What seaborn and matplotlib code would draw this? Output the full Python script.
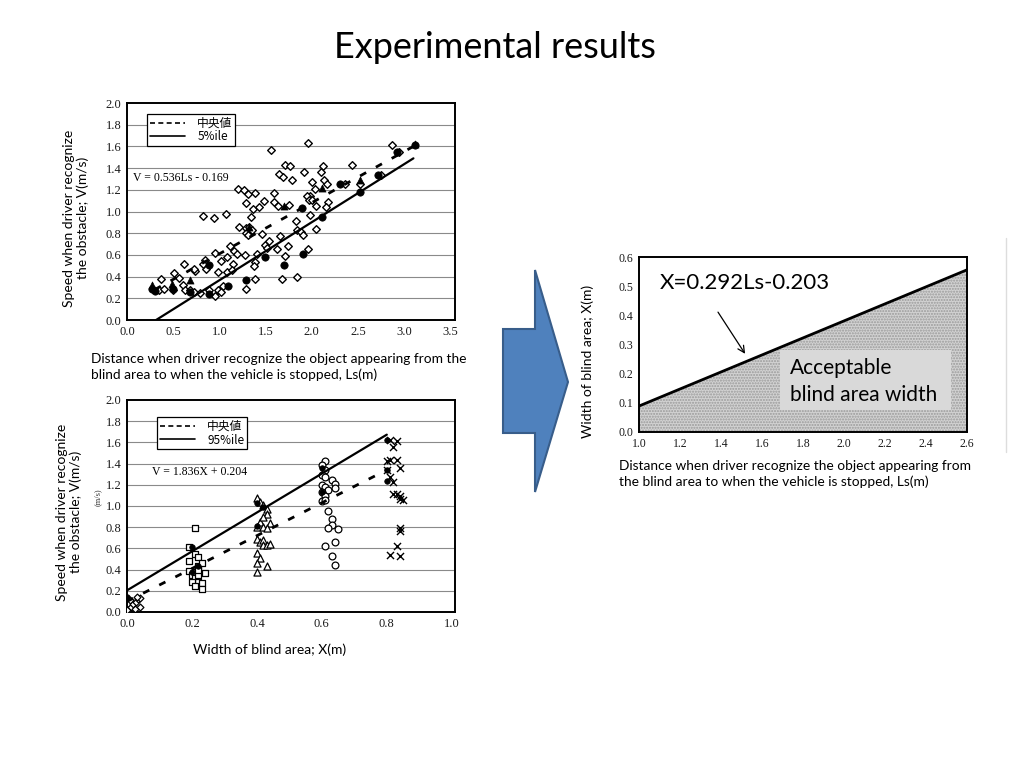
import matplotlib
matplotlib.use("Agg")
import matplotlib.pyplot as plt
from matplotlib.patches import Polygon, Rectangle
from matplotlib.lines import Line2D
from matplotlib.font_manager import FontProperties
import seaborn as sns
import numpy as np

# ---------------- data: top chart (V vs Ls) ----------------
top_diamond_x = [2.87, 1.96, 1.56, 2.43, 2.12, 1.71, 1.76, 1.65, 1.69, 1.79, 1.92, 2.10, 2.13, 2.16,
                 2.00, 2.03, 2.36, 1.20, 1.27, 1.39, 1.31, 1.59, 1.48, 1.59, 1.63, 1.75, 1.29, 1.36,
                 1.43, 1.98, 1.95, 1.97, 2.00, 2.05, 2.18, 2.15, 1.98, 0.82, 0.94, 1.07, 1.21, 1.34,
                 1.29, 1.32, 1.35, 1.29, 1.31, 1.46, 1.66, 1.84, 1.88, 1.91, 1.83, 2.05, 1.49, 1.54,
                 1.62, 1.74, 1.71, 1.41, 1.28, 1.52, 1.12, 1.16, 1.19, 1.08, 1.15, 1.02, 0.95, 0.99,
                 1.08, 0.85, 0.84, 0.82, 0.74, 0.72, 0.62, 0.56, 0.51, 0.37, 0.35, 0.40, 0.50, 0.61,
                 0.63, 0.68, 0.73, 0.79, 0.89, 0.95, 0.99, 1.04, 1.14, 1.38, 1.37, 1.39, 1.29, 1.68,
                 1.84, 1.96, 2.52, 2.75, 2.94, 1.02]
top_diamond_y = [1.61, 1.63, 1.57, 1.43, 1.42, 1.43, 1.42, 1.35, 1.32, 1.29, 1.36, 1.36, 1.29, 1.25,
                 1.27, 1.21, 1.25, 1.21, 1.20, 1.17, 1.16, 1.17, 1.10, 1.09, 1.05, 1.06, 1.08, 1.02,
                 1.04, 1.14, 1.14, 1.11, 1.11, 1.05, 1.09, 1.04, 0.97, 0.96, 0.94, 0.98, 0.86, 0.95,
                 0.85, 0.86, 0.83, 0.80, 0.78, 0.79, 0.77, 0.83, 0.81, 0.78, 0.91, 0.84, 0.69, 0.73,
                 0.65, 0.68, 0.59, 0.61, 0.60, 0.66, 0.68, 0.64, 0.61, 0.58, 0.52, 0.54, 0.62, 0.44,
                 0.44, 0.47, 0.55, 0.52, 0.45, 0.47, 0.52, 0.39, 0.43, 0.38, 0.28, 0.29, 0.28, 0.32,
                 0.28, 0.28, 0.26, 0.25, 0.28, 0.22, 0.28, 0.31, 0.46, 0.53, 0.50, 0.38, 0.29, 0.38,
                 0.40, 0.65, 1.25, 1.34, 1.55, 0.26]
top_circle_x = [0.27, 0.30, 0.50, 0.68, 0.89, 0.89, 1.09, 1.29, 1.49, 1.70, 1.90, 1.89, 2.11, 2.31,
                2.52, 2.72, 2.92, 3.12]
top_circle_y = [0.29, 0.27, 0.29, 0.26, 0.24, 0.51, 0.31, 0.37, 0.58, 0.51, 0.61, 1.03, 0.95, 1.25,
                1.18, 1.34, 1.55, 1.61]
top_tri_x = [0.27, 0.49, 0.68, 1.32, 1.70, 2.11, 2.52, 3.12]
top_tri_y = [0.32, 0.33, 0.37, 0.86, 1.05, 1.22, 1.29, 1.62]
top_median_x = [0.30, 3.10]
top_median_y = [0.28, 1.60]
top_p5_x = [0.315, 3.10]
top_p5_y = [0.0, 1.49]
top_legend = ["中央値", "5%ile"]
top_equation = "V = 0.536Ls - 0.169"

# ---------------- data: bottom chart (V vs X) ----------------
bot_square_x = [0.21, 0.19, 0.19, 0.20, 0.21, 0.21, 0.22, 0.22, 0.21, 0.23, 0.24, 0.22, 0.20, 0.21,
                0.23, 0.23, 0.19, 0.22, 0.22]
bot_square_y = [0.79, 0.48, 0.39, 0.35, 0.33, 0.55, 0.52, 0.43, 0.38, 0.46, 0.37, 0.28, 0.28, 0.25,
                0.27, 0.22, 0.61, 0.35, 0.40]
bot_tri_x = [0.40, 0.41, 0.42, 0.43, 0.43, 0.44, 0.41, 0.40, 0.42, 0.42, 0.43, 0.40, 0.41, 0.42,
             0.42, 0.43, 0.44, 0.40, 0.41, 0.40, 0.40, 0.43]
bot_tri_y = [1.08, 1.04, 1.01, 0.97, 0.92, 0.84, 0.85, 0.80, 0.90, 0.80, 0.79, 0.69, 0.66, 0.68,
             0.63, 0.63, 0.64, 0.56, 0.51, 0.46, 0.38, 0.43]
bot_circle_x = [0.61, 0.60, 0.61, 0.60, 0.61, 0.63, 0.64, 0.60, 0.61, 0.64, 0.62, 0.60, 0.61, 0.60,
                0.61, 0.62, 0.63, 0.63, 0.62, 0.65, 0.64, 0.61, 0.63, 0.64]
bot_circle_y = [1.42, 1.39, 1.34, 1.29, 1.27, 1.25, 1.21, 1.20, 1.18, 1.17, 1.15, 1.13, 1.09, 1.05,
                1.06, 0.95, 0.88, 0.82, 0.79, 0.78, 0.66, 0.62, 0.53, 0.44]
bot_cross_x = [0.81, 0.83, 0.82, 0.80, 0.81, 0.83, 0.84, 0.80, 0.81, 0.82, 0.82, 0.83, 0.84, 0.85,
               0.84, 0.84, 0.84, 0.83, 0.81, 0.84]
bot_cross_y = [1.62, 1.61, 1.56, 1.42, 1.43, 1.43, 1.36, 1.34, 1.27, 1.23, 1.11, 1.11, 1.09, 1.06,
               1.07, 0.79, 0.76, 0.62, 0.54, 0.53]
bot_diamond_x = [0.006, 0.013, 0.02, 0.027, 0.034, 0.04, 0.03, 0.04, 0.024, 0.0, 0.01]
bot_diamond_y = [0.03, 0.05, 0.08, 0.09, 0.12, 0.13, 0.14, 0.05, 0.03, 0.02, 0.11]
bot_dot_x = [0.0, 0.20, 0.20, 0.22, 0.40, 0.40, 0.42, 0.60, 0.60, 0.80, 0.80, 0.80]
bot_dot_y = [0.14, 0.61, 0.38, 0.43, 1.03, 0.81, 0.99, 1.36, 1.13, 1.62, 1.34, 1.24]
bot_median_x = [0.0, 0.80]
bot_median_y = [0.10, 1.34]
bot_p95_x = [0.0, 0.80]
bot_p95_y = [0.204, 1.673]
bot_legend = ["中央値", "95%ile"]
bot_equation = "V = 1.836X + 0.204"

# ---------------- data: right chart (X vs Ls) ----------------
right_line_x = [1.0, 2.6]
right_line_y = [0.089, 0.556]
right_equation = "X=0.292Ls-0.203"

top_xticks = [0.0, 0.5, 1.0, 1.5, 2.0, 2.5, 3.0, 3.5]
v_ticks = [0.0, 0.2, 0.4, 0.6, 0.8, 1.0, 1.2, 1.4, 1.6, 1.8, 2.0]
bot_xticks = [0.0, 0.2, 0.4, 0.6, 0.8, 1.0]
right_xticks = [1.0, 1.2, 1.4, 1.6, 1.8, 2.0, 2.2, 2.4, 2.6]
right_yticks = [0.0, 0.1, 0.2, 0.3, 0.4, 0.5, 0.6]

# ---------------- style ----------------
sns.set_theme(style="white")
plt.rcParams["font.family"] = ["Lato", "DejaVu Sans"]
plt.rcParams["text.color"] = "black"
SLIDE = ["Lato", "DejaVu Sans"]
SCAN = ["Liberation Serif", "DejaVu Serif"]
CJK = FontProperties(family=["Noto Sans CJK JP", "Liberation Serif"], size=8.5)

W, H = 1024, 768
fig = plt.figure(figsize=(W / 100, H / 100), dpi=100)
fig.patch.set_facecolor("white")


def rect(l, t, r, b):
    return [l / W, 1 - b / H, (r - l) / W, (b - t) / H]


def style_scan_axes(ax, xticks, yticks, xlim, ylim, grid=True, size=9):
    ax.set_xlim(*xlim)
    ax.set_ylim(*ylim)
    ax.set_xticks(xticks)
    ax.set_yticks(yticks)
    ax.set_xticklabels([f"{t:.1f}" for t in xticks], family=SCAN, fontsize=size, color="#1a1a1a")
    ax.set_yticklabels([f"{t:.1f}" for t in yticks], family=SCAN, fontsize=size, color="#1a1a1a")
    ax.tick_params(axis="both", direction="in", length=3, width=0.8, color="#333333", pad=4)
    for s in ax.spines.values():
        s.set_color("black")
        s.set_linewidth(1.4)
    if grid:
        for t in yticks[1:-1]:
            ax.axhline(t, color="#8a8a8a", lw=0.8, zorder=0)
    ax.set_xlabel("")
    ax.set_ylabel("")


def make_legend(ax, labels, anchor):
    handles = [Line2D([0], [0], color="black", lw=1.2, ls=(0, (3, 2))),
               Line2D([0], [0], color="black", lw=1.2)]
    leg = ax.legend(handles, labels, loc="upper left", bbox_to_anchor=anchor,
                    borderaxespad=0, prop=CJK, frameon=True, fancybox=False, framealpha=1,
                    edgecolor="black", handlelength=3.0, borderpad=0.25, labelspacing=0.05,
                    handletextpad=1.0)
    leg.get_frame().set_linewidth(0.9)
    for t in leg.get_texts():
        t.set_color("black")
    return leg


# ---------------- top-left chart ----------------
ax1 = fig.add_axes(rect(127, 103, 455, 320))
style_scan_axes(ax1, top_xticks, v_ticks, (0, 3.55), (0, 2.0))
sns.scatterplot(x=top_diamond_x, y=top_diamond_y, marker="D", s=15, color="white",
                edgecolor="black", linewidth=1.0, ax=ax1, zorder=3)
sns.scatterplot(x=top_circle_x, y=top_circle_y, marker="o", s=28, color="black",
                edgecolor="black", linewidth=0.5, ax=ax1, zorder=4)
sns.scatterplot(x=top_tri_x, y=top_tri_y, marker="^", s=26, color="black",
                edgecolor="black", linewidth=0.5, ax=ax1, zorder=4)
sns.lineplot(x=top_median_x, y=top_median_y, color="black", lw=2.0, ax=ax1, zorder=5)
ax1.lines[-1].set_dashes((2.5, 4))
sns.lineplot(x=top_p5_x, y=top_p5_y, color="black", lw=1.6, ax=ax1, zorder=5)
ax1.text(0.07, 1.31, top_equation, family=SCAN, fontsize=8.5, va="center", ha="left")
make_legend(ax1, top_legend, (0.061, 0.95))

# ---------------- bottom-left chart ----------------
ax2 = fig.add_axes(rect(127, 400, 455, 612))
style_scan_axes(ax2, bot_xticks, v_ticks, (0, 1.01), (0, 2.0))
sns.scatterplot(x=bot_square_x, y=bot_square_y, marker="s", s=20, color="white",
                edgecolor="black", linewidth=0.9, ax=ax2, zorder=3)
sns.scatterplot(x=bot_tri_x, y=bot_tri_y, marker="^", s=26, color="white",
                edgecolor="black", linewidth=0.9, ax=ax2, zorder=3)
sns.scatterplot(x=bot_circle_x, y=bot_circle_y, marker="o", s=24, color="white",
                edgecolor="black", linewidth=0.9, ax=ax2, zorder=3)
sns.scatterplot(x=bot_cross_x, y=bot_cross_y, marker="x", s=26, color="black",
                linewidth=1.0, ax=ax2, zorder=3)
sns.scatterplot(x=bot_diamond_x, y=bot_diamond_y, marker="D", s=12, color="white",
                edgecolor="black", linewidth=0.9, ax=ax2, zorder=3)
sns.scatterplot(x=bot_dot_x, y=bot_dot_y, marker="o", s=16, color="black",
                edgecolor="black", linewidth=0.5, ax=ax2, zorder=4)
sns.lineplot(x=bot_median_x, y=bot_median_y, color="black", lw=2.0, ax=ax2, zorder=5)
ax2.lines[-1].set_dashes((2.5, 4))
sns.lineplot(x=bot_p95_x, y=bot_p95_y, color="black", lw=1.6, ax=ax2, zorder=5)
ax2.text(0.077, 1.32, bot_equation, family=SCAN, fontsize=8.5, va="center", ha="left")
make_legend(ax2, bot_legend, (0.091, 0.92))
fig.text(98 / W, 1 - 497 / H, "(m/s)", rotation=90, family=SCAN, fontsize=6,
         ha="center", va="center", color="#333333")

# ---------------- right chart ----------------
ax3 = fig.add_axes(rect(639, 257, 967, 432))
style_scan_axes(ax3, right_xticks, right_yticks, (1.0, 2.6), (0, 0.6), grid=False, size=8.5)
ax3.fill_between(right_line_x, right_line_y, 0, facecolor="#d2d2d2", edgecolor="#9a9a9a",
                 hatch="......", linewidth=0, zorder=1)
sns.lineplot(x=right_line_x, y=right_line_y, color="black", lw=2.0, ax=ax3, zorder=4)
ax3.add_patch(Rectangle((1.69, 0.075), 0.83, 0.205, facecolor="#d9d9d9", edgecolor="none",
                        zorder=2))
ax3.text(1.10, 0.51, right_equation, family=SLIDE, fontsize=16, va="center", ha="left", zorder=5)
ax3.text(1.737, 0.22, "Acceptable", family=SLIDE, fontsize=15, va="center", ha="left", zorder=5)
ax3.text(1.737, 0.127, "blind area width", family=SLIDE, fontsize=15, va="center", ha="left",
         zorder=5)
ax3.annotate("", xy=(1.525, 0.26), xytext=(1.378, 0.419),
             arrowprops=dict(arrowstyle="->", color="black", lw=0.9), zorder=5)

# ---------------- slide texts ----------------
fig.text(495 / W, 1 - 47 / H, "Experimental results", fontsize=26, ha="center", va="center",
         family=SLIDE)
fig.text(76 / W, 1 - 218 / H, "Speed when driver recognize\nthe obstacle; V(m/s)", rotation=90,
         fontsize=10, ha="center", va="center", multialignment="center", family=SLIDE,
         linespacing=1.2)
fig.text(91 / W, 1 - 367 / H,
         "Distance when driver recognize the object appearing from the\n"
         "blind area to when the vehicle is stopped, Ls(m)",
         fontsize=9.9, ha="left", va="center", family=SLIDE, linespacing=1.25)
fig.text(69 / W, 1 - 512 / H, "Speed when driver recognize\nthe obstacle; V(m/s)", rotation=90,
         fontsize=10, ha="center", va="center", multialignment="center", family=SLIDE,
         linespacing=1.2)
fig.text(270 / W, 1 - 650 / H, "Width of blind area; X(m)", fontsize=10, ha="center",
         va="center", family=SLIDE)
fig.text(588 / W, 1 - 361 / H, "Width of blind area; X(m)", rotation=90, fontsize=10,
         ha="center", va="center", family=SLIDE)
fig.text(619 / W, 1 - 474 / H,
         "Distance when driver recognize the object appearing from\n"
         "the blind area to when the vehicle is stopped, Ls(m)",
         fontsize=9.9, ha="left", va="center", family=SLIDE, linespacing=1.25)

# ---------------- big blue arrow (decoration) ----------------
arrow_px = [(503, 329), (535, 329), (535, 270), (568, 382), (535, 492), (535, 433), (503, 433)]
fig.patches.append(Polygon([(x / W, 1 - y / H) for x, y in arrow_px], closed=True,
                           transform=fig.transFigure, facecolor="#4f81bd", edgecolor="#385d8a",
                           linewidth=1.5))
fig.lines.append(Line2D([1006 / W, 1006 / W], [1 - 238 / H, 1 - 452 / H],
                        transform=fig.transFigure, color="#dddddd", lw=1))

fig.savefig("out.png", dpi=100)
